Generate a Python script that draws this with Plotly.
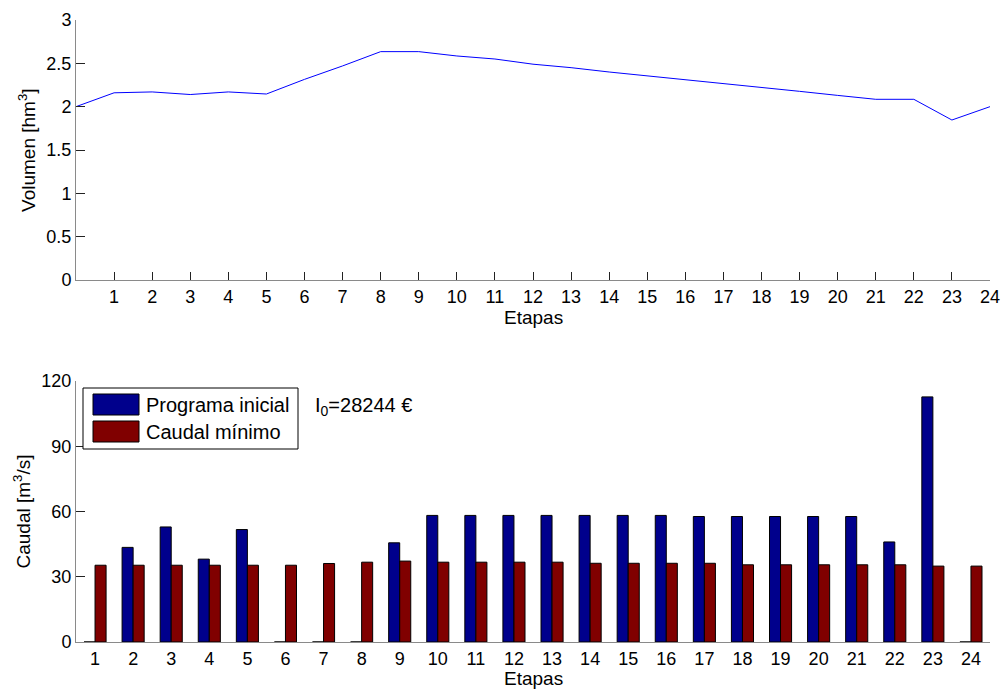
import plotly.graph_objects as go

# Etapas (stages) and stored volume at the end of each stage
etapas_vol = list(range(0, 25))
volumen = [2.00, 2.16, 2.17, 2.14, 2.17, 2.146, 2.315, 2.47, 2.635, 2.635,
           2.585, 2.55, 2.49, 2.45, 2.40, 2.357, 2.31, 2.265, 2.22, 2.177,
           2.13, 2.085, 2.085, 1.846, 2.00]

# Flows per stage
etapas = list(range(1, 25))
programa_inicial = [0, 43.5, 52.9, 38.1, 51.7, 0, 0, 0, 45.6, 58.2,
                    58.2, 58.2, 58.2, 58.2, 58.2, 58.2, 57.7, 57.7, 57.7, 57.7,
                    57.7, 46.0, 112.7, 0]
caudal_minimo = [35.3, 35.3, 35.3, 35.3, 35.3, 35.3, 36.1, 36.7, 37.2, 36.7,
                 36.7, 36.7, 36.7, 36.2, 36.2, 36.2, 36.2, 35.5, 35.5, 35.5,
                 35.5, 35.5, 34.9, 34.9]

serie_nombres = ["Programa inicial", "Caudal mínimo"]
serie_colores = ["#00008C", "#800000"]
coste_texto = "I<sub>0</sub>=28244 €"

FONT = "Liberation Sans, Arial, Helvetica, sans-serif"
TICK_SIZE = 18
LABEL_SIZE = 19
LEGEND_SIZE = 20

W, H = 1002, 689
ML, MR, MT, MB = 76, 12, 20, 47

fig = go.Figure()

fig.add_trace(go.Scatter(
    x=etapas_vol, y=volumen, mode="lines",
    line=dict(color="#0000FF", width=1),
    xaxis="x", yaxis="y", showlegend=False))

for nombre, valores, color in zip(serie_nombres, [programa_inicial, caudal_minimo], serie_colores):
    fig.add_trace(go.Bar(
        x=etapas, y=valores, name=nombre,
        marker=dict(color=color, line=dict(color="#000000", width=1)),
        xaxis="x2", yaxis="y2", showlegend=False))

axis_common = dict(
    showline=True, linecolor="#8a8a8a", linewidth=1,
    showgrid=False, zeroline=False, mirror=False, automargin=False,
    tickfont=dict(family=FONT, size=TICK_SIZE, color="#000000"),
)

fig.update_layout(
    width=W, height=H,
    margin=dict(l=ML, r=MR, t=MT, b=MB, autoexpand=False),
    paper_bgcolor="white", plot_bgcolor="white", showlegend=False,
    barmode="group", bargap=0.42, bargroupgap=0,
    xaxis=dict(domain=[0, 1], anchor="y", range=[0, 24],
               tickvals=list(range(1, 25)), ticks="inside", ticklen=8,
               tickcolor="#222222", **axis_common),
    yaxis=dict(domain=[0.582, 1], anchor="x", range=[0, 3],
               tickvals=[0, 0.5, 1, 1.5, 2, 2.5, 3],
               ticktext=["0", "0.5", "1", "1.5", "2", "2.5", "3"],
               ticks="inside", ticklen=9, tickcolor="#222222", **axis_common),
    xaxis2=dict(domain=[0, 1], anchor="y2", range=[0.5, 24.5],
                tickvals=etapas, ticks="", **axis_common),
    yaxis2=dict(domain=[0, 0.4196], anchor="x2", range=[0, 120],
                tickvals=[0, 30, 60, 90, 120], ticks="inside", ticklen=9,
                tickcolor="#222222", **axis_common),
)


# helpers: pixel position -> paper coordinates
def px_x(px):
    return (px - ML) / (W - ML - MR)


def px_y(py):
    return (H - MB - py) / (H - MT - MB)


label_font = dict(family=FONT, size=LABEL_SIZE, color="#000000")
legend_font = dict(family=FONT, size=LEGEND_SIZE, color="#000000")

annotations = [
    # axis titles
    dict(text="Etapas", xref="paper", yref="paper", x=0.5, y=px_y(317),
         xanchor="center", yanchor="middle", showarrow=False, font=label_font),
    dict(text="Etapas", xref="paper", yref="paper", x=0.5, y=px_y(678),
         xanchor="center", yanchor="middle", showarrow=False, font=label_font),
    dict(text="Volumen [hm<sup>3</sup>]", xref="paper", yref="paper",
         x=px_x(27), y=0.791, textangle=-90, xanchor="center",
         yanchor="middle", showarrow=False, font=label_font),
    dict(text="Caudal [m<sup>3</sup>/s]", xref="paper", yref="paper",
         x=px_x(22), y=0.2098, textangle=-90, xanchor="center",
         yanchor="middle", showarrow=False, font=label_font),
    # total cost label
    dict(text=coste_texto, xref="paper", yref="paper", x=px_x(313), y=px_y(406),
         xanchor="left", yanchor="middle", showarrow=False, font=legend_font),
]

# legend box with large colour swatches
shapes = [dict(type="rect", xref="paper", yref="paper",
               x0=px_x(83), x1=px_x(298), y0=px_y(449), y1=px_y(388),
               line=dict(color="#000000", width=1), fillcolor="white", layer="above")]
filas = [(394, 415), (421, 442)]
for (top, bot), nombre, color in zip(filas, serie_nombres, serie_colores):
    shapes.append(dict(type="rect", xref="paper", yref="paper",
                       x0=px_x(93), x1=px_x(139), y0=px_y(bot), y1=px_y(top),
                       line=dict(color="#000000", width=1), fillcolor=color,
                       layer="above"))
    annotations.append(dict(text=nombre, xref="paper", yref="paper",
                            x=px_x(144), y=px_y((top + bot) / 2),
                            xanchor="left", yanchor="middle", showarrow=False,
                            font=legend_font))

fig.update_layout(shapes=shapes, annotations=annotations)

fig.write_html("out.html")
